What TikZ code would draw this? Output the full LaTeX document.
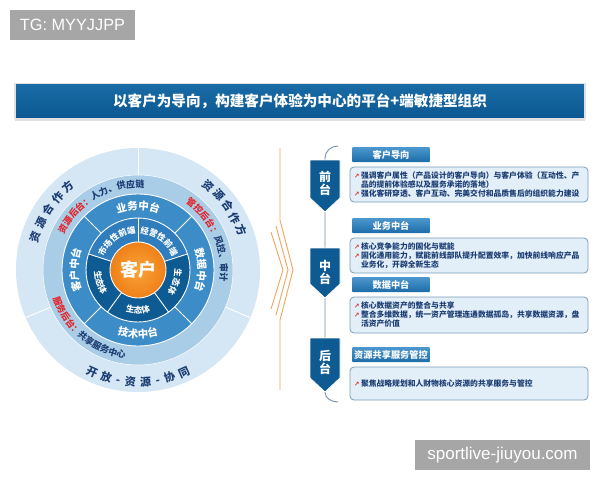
\documentclass[tikz,border=0pt]{standalone}
\usepackage{fontspec}
\setmainfont{Noto Sans CJK SC}
\newfontfamily\latinfont{Liberation Sans}
\newfontfamily\symfont{DejaVu Sans}
\usetikzlibrary{calc,shadows,decorations.text}

\definecolor{barblue}{HTML}{0B5791}
\definecolor{barblueup}{HTML}{1A6CA6}
\definecolor{ringouter}{HTML}{D5E7F4}
\definecolor{ringlight}{HTML}{A9CCE7}
\definecolor{ringmid}{HTML}{3C8CC8}
\definecolor{ringfront}{HTML}{2F7DBC}
\definecolor{ringdark}{HTML}{0E5A92}
\definecolor{coreorange}{HTML}{EF8018}
\definecolor{corelight}{HTML}{F8A43A}
\definecolor{navytext}{HTML}{1C3E74}
\definecolor{alertred}{HTML}{E5252A}
\definecolor{boxfill}{HTML}{E2EEF8}
\definecolor{boxedge}{HTML}{7E9DB9}
\definecolor{tabtop}{HTML}{4C98CE}
\definecolor{tabbottom}{HTML}{1E6CA8}
\definecolor{spinegray}{HTML}{7590AA}
\definecolor{chevronorange}{HTML}{F2A55A}
\definecolor{stampgray}{HTML}{A6A6A6}

\newcommand{\corefont}{\color{white}\bfseries\fontsize{18}{18}\selectfont}
\newcommand{\ctrfont}{\color{white}\bfseries\fontsize{10.5}{10.5}\selectfont}
\newcommand{\frontfont}{\color{white}\bfseries\fontsize{8.4}{8.4}\selectfont}
\newcommand{\backfont}{\bfseries\fontsize{9}{9}\selectfont}
\newcommand{\outerfont}{\color{navytext}\bfseries\fontsize{11}{11}\selectfont}
\newcommand{\upmark}{\makebox[7pt][l]{\textcolor{alertred}{\symfont\fontsize{6.5}{6.5}\selectfont ↗}}}
\newcommand{\hangpad}{\hspace*{7pt}}

\tikzset{
  divider/.style={white, line width=0.9pt},
  arc text/.style={decorate, decoration={text along path, text align=center, text={#1}}},
  fit text/.style={decorate, decoration={text along path, text align=fit to path, text={#1}}},
  stamp/.style={fill=stampgray, text=white, inner sep=0pt, minimum height=30pt},
  titlebar/.style={top color=barblueup, bottom color=barblue, draw=white!88!black, line width=1.5pt,
    drop shadow={opacity=0.25, shadow xshift=0pt, shadow yshift=-2pt},
    minimum width=570pt, minimum height=35pt, text=white, font=\bfseries\fontsize{14.6}{14.6}\selectfont},
  headtab/.style={top color=tabtop, bottom color=tabbottom, rounded corners=1pt, minimum width=78pt,
    minimum height=15pt, inner sep=0pt, text=white, font=\bfseries\fontsize{9.2}{9.2}\selectfont},
  infobox/.style={draw=boxedge, fill=boxfill, rounded corners=4pt, line width=0.8pt, text width=230pt,
    align=left, inner sep=4pt, text=navytext, font=\bfseries\fontsize{7.8}{9}\selectfont},
  stage/.style={fill=ringdark, draw=white, line width=0.8pt},
  stagetext/.style={text=white, align=center, inner sep=0pt, font=\bfseries\fontsize{12}{13}\selectfont},
  chevron/.style={chevronorange, line width=0.9pt},
  spine/.style={spinegray, line width=0.9pt}
}

\begin{document}
\begin{tikzpicture}[x=1pt, y=1pt]
\useasboundingbox (0,0) rectangle (600,-480);
\fill[white] (0,0) rectangle (600,-480);

\node[stamp, minimum width=125pt, font=\latinfont\fontsize{16.3}{16.3}\selectfont] (tg) at (72.5,-25) {TG: MYYJJPP};
\node[stamp, minimum width=175pt, font=\latinfont\fontsize{17}{17}\selectfont] (site) at (502.5,-455) {sportlive-jiuyou.com};

\node[titlebar] (title) at (300,-101) {以客户为导向，构建客户体验为中心的平台+端敏捷型组织};

% ring diagram
\begin{scope}[shift={(138,-270)}]
\fill[ringouter] (0,0) circle[radius=122];
\fill[ringlight] (0,0) circle[radius=95];
\fill[ringmid] (0,0) circle[radius=76];
\fill[ringdark] (0,0) circle[radius=52];
\fill[ringfront] (0,0) -- (18:52) arc[start angle=18, end angle=162, radius=52] -- cycle;
\shade[inner color=corelight, outer color=coreorange] (0,0) circle[radius=28];
\draw[divider] (0,0) circle[radius=28] circle[radius=52] circle[radius=76];
\draw[white, line width=0.5pt] (0,0) circle[radius=95];
\foreach \a in {90,203,337} \draw[divider] (\a:95) -- (\a:122);
\foreach \a in {45,135,225,315} \draw[divider] (\a:52) -- (\a:76);
\foreach \a in {18,90,162,234,306} \draw[divider] (\a:28) -- (\a:52);
\node (core) at (0,0) {\corefont 客户};

% outer ring
\path[fit text={|\outerfont|资源合作方}] (165:104) arc[start angle=165, end angle=127, radius=104];
\path[fit text={|\outerfont|资源合作方}] (53:106) arc[start angle=53, end angle=18, radius=106];
\path[fit text={|\outerfont|开放-资源-协同}] (-117:116) arc[start angle=-117, end angle=-63, radius=116];

% back office ring
\path[arc text={|\backfont\color{alertred}|资源后台：|\backfont\color{navytext}|人力、供应链}] (170:82.5) arc[start angle=170, end angle=70, radius=82.5];
\path[arc text={|\backfont\color{alertred}|管控后台：|\backfont\color{navytext}|风控、审计}] (70:82.5) arc[start angle=70, end angle=-23, radius=82.5];
\path[arc text={|\backfont\color{alertred}|服务后台：|\backfont\color{navytext}|共享服务中心}] (180:89.5) arc[start angle=180, end angle=280, radius=89.5];

% middle ring
\path[arc text={|\ctrfont|业务中台}] (125:60) arc[start angle=125, end angle=55, radius=60];
\path[arc text={|\ctrfont|数据中台}] (35:60) arc[start angle=35, end angle=-35, radius=60];
\path[arc text={|\ctrfont|客户中台}] (215:60) arc[start angle=215, end angle=145, radius=60];
\path[arc text={|\ctrfont|技术中台}] (235:68) arc[start angle=235, end angle=305, radius=68];

% inner ring
\path[arc text={|\frontfont|市场性前端}] (162:36.8) arc[start angle=162, end angle=90, radius=36.8];
\path[arc text={|\frontfont|经营性前端}] (90:36.8) arc[start angle=90, end angle=18, radius=36.8];
\path[arc text={|\frontfont|生态体}] (162:43.5) arc[start angle=162, end angle=234, radius=43.5];
\path[arc text={|\frontfont|生态体}] (234:43.5) arc[start angle=234, end angle=306, radius=43.5];
\path[arc text={|\frontfont|生态体}] (18:36.8) arc[start angle=18, end angle=-54, radius=36.8];
\end{scope}

% orange chevron
\draw[chevron] (280,-148) -- (280,-220) -- (293,-270) -- (280,-320) -- (280,-390);
\draw[chevron] (276,-226) -- (288,-270) -- (276,-315);
\draw[chevron] (271,-232) -- (283,-270) -- (271,-309);

% stages
\draw[spine] (338,-146) to[out=180,in=90] (325,-158) -- (325,-392) to[out=-90,in=180] (338,-402);
\draw[stage] (310,-160) -- (340,-160) -- (340,-198) -- (325,-212) -- (310,-198) -- cycle;
\node[stagetext] (qian) at (325,-183) {前\\台};
\draw[stage] (310,-248) -- (340,-248) -- (340,-284) -- (325,-298) -- (310,-284) -- cycle;
\node[stagetext] (zhong) at (325,-272) {中\\台};
\draw[stage] (310,-338) -- (340,-338) -- (340,-378) -- (325,-392) -- (310,-378) -- cycle;
\node[stagetext] (hou) at (325,-362) {后\\台};

\node[headtab] (tabkehu) at (391,-154.5) {客户导向};
\node[infobox, minimum height=35pt] (boxkehu) at (469,-184.5) {\upmark 强调客户属性（产品设计的客户导向）与客户体验（互动性、产\\
\hangpad 品的提前体验感以及服务承诺的落地）\\
\upmark 强化客研穿透、客户互动、完美交付和品质售后的组织能力建设};

\node[headtab] (tabyewu) at (391,-225.5) {业务中台};
\node[infobox, minimum height=35pt] (boxyewu) at (469,-255.5) {\upmark 核心竞争能力的固化与赋能\\
\upmark 固化通用能力，赋能前线部队提升配置效率，加快前线响应产品\\
\hangpad 业务化，开辟全新生态};

\node[headtab] (tabshuju) at (391,-284.5) {数据中台};
\node[infobox, minimum height=36pt] (boxshuju) at (469,-315) {\upmark 核心数据资产的整合与共享\\
\upmark 整合多维数据，统一资产管理连通数据孤岛，共享数据资源，盘\\
\hangpad 活资产价值};

\node[headtab] (tabziyuan) at (391,-354.5) {资源共享服务管控};
\node[infobox, minimum height=33pt] (boxziyuan) at (469,-383.5) {\upmark 聚焦战略规划和人财物核心资源的共享服务与管控};
\end{tikzpicture}
\end{document}
